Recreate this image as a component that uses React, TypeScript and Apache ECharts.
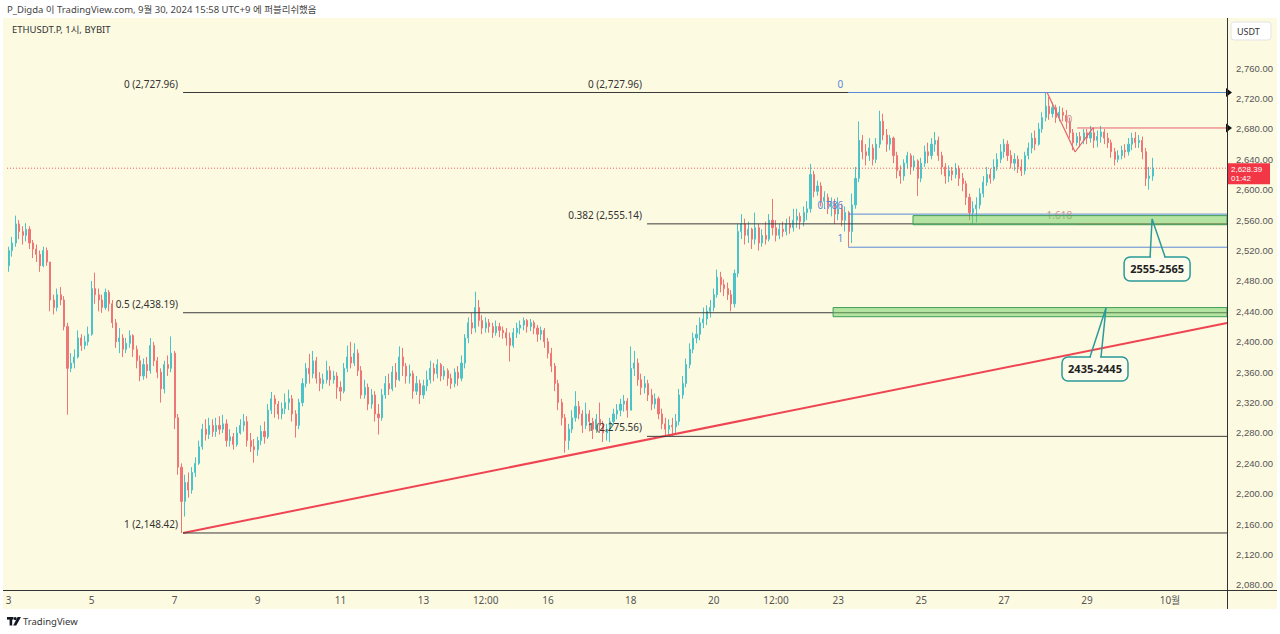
import React, { useEffect, useRef } from "react";
import * as echarts from "echarts";

// ---- candle data: 2-hour candles from Sep 3 00:00 (UTC+9), open = previous close ----
const FIRST_OPEN = 2500;
const closes = [
  2520,2530,2555,2545,2540,2548,2530,2522,2515,2500,2520,2505,
  2455,2445,2462,2455,2420,2365,2372,2380,2405,2395,2400,2410,
  2470,2462,2455,2445,2465,2450,2425,2400,2405,2390,2398,2408,
  2390,2375,2355,2370,2362,2395,2375,2360,2338,2370,2365,2385,
  2300,2235,2190,2215,2205,2228,2240,2262,2285,2278,2290,2282,
  2290,2285,2292,2270,2275,2265,2280,2290,2295,2270,2262,2258,
  2270,2282,2275,2310,2325,2318,2305,2312,2320,2325,2305,2290,
  2320,2345,2365,2358,2375,2352,2345,2350,2362,2350,2355,2340,
  2335,2365,2380,2372,2385,2362,2330,2340,2318,2330,2305,2300,
  2330,2345,2338,2360,2350,2380,2368,2355,2358,2335,2345,2330,
  2342,2350,2365,2358,2370,2355,2362,2352,2345,2360,2352,2372,
  2405,2425,2418,2445,2428,2418,2425,2420,2412,2420,2415,2412,
  2405,2395,2412,2418,2422,2428,2420,2425,2418,2410,2415,2400,
  2385,2368,2345,2320,2300,2270,2285,2300,2315,2305,2290,2305,
  2295,2285,2298,2290,2280,2285,2295,2305,2310,2318,2322,2310,
  2365,2372,2350,2340,2345,2330,2318,2325,2305,2292,2285,2290,
  2288,2295,2330,2345,2370,2390,2405,2410,2425,2430,2440,2445,
  2462,2485,2475,2470,2462,2450,2490,2545,2555,2540,2548,2535,
  2550,2530,2540,2535,2560,2550,2540,2548,2545,2555,2550,2560,
  2565,2558,2570,2575,2620,2598,2605,2585,2590,2578,2582,2568,
  2575,2560,2570,2545,2580,2615,2665,2650,2645,2655,2640,2660,
  2690,2672,2660,2668,2645,2625,2618,2635,2645,2630,2638,2615,
  2635,2650,2645,2660,2665,2645,2630,2618,2625,2620,2628,2615,
  2608,2590,2570,2575,2580,2595,2610,2620,2615,2630,2640,2650,
  2660,2645,2635,2640,2630,2625,2645,2655,2668,2660,2680,2695,
  2710,2700,2708,2695,2702,2698,2690,2675,2662,2670,2665,2675,
  2668,2675,2665,2670,2676,2668,2662,2650,2640,2645,2652,2650,
  2660,2668,2662,2665,2650,2615,2618,2628.39,
];
const lows = [
  2492,2512,2525,2535,2528,2532,2522,2510,2505,2492,2498,2500,
  2440,2436,2440,2448,2415,2304,2360,2365,2378,2388,2390,2395,
  2408,2450,2440,2438,2442,2440,2418,2392,2385,2380,2385,2392,
  2380,2365,2348,2350,2352,2358,2368,2352,2320,2332,2355,2360,
  2285,2225,2148.42,2170,2195,2200,2222,2238,2258,2270,2272,2275,
  2275,2278,2280,2262,2262,2258,2262,2278,2282,2262,2255,2241,
  2250,2264,2266,2272,2305,2300,2298,2298,2305,2310,2295,2274,
  2285,2315,2340,2345,2352,2345,2335,2338,2345,2342,2345,2325,
  2322,2332,2360,2365,2368,2355,2325,2325,2310,2312,2295,2278,
  2296,2325,2330,2335,2340,2348,2355,2345,2345,2325,2330,2318,
  2325,2335,2345,2348,2352,2348,2350,2342,2338,2340,2342,2348,
  2365,2398,2410,2412,2420,2410,2412,2412,2405,2408,2406,2404,
  2395,2374,2392,2405,2410,2415,2412,2414,2410,2400,2402,2392,
  2378,2360,2335,2310,2290,2254,2258,2280,2295,2298,2280,2285,
  2282,2272,2280,2280,2268,2270,2268,2290,2298,2302,2308,2300,
  2315,2355,2342,2330,2332,2322,2310,2312,2298,2285,2276,2278,
  2276,2280,2290,2325,2340,2365,2385,2398,2402,2418,2422,2432,
  2440,2458,2465,2460,2455,2440,2445,2485,2535,2528,2530,2522,
  2528,2520,2525,2528,2532,2540,2532,2535,2538,2540,2542,2545,
  2550,2548,2552,2560,2570,2590,2592,2578,2575,2568,2565,2555,
  2560,2552,2545,2525,2530,2575,2610,2640,2632,2638,2632,2635,
  2655,2665,2650,2652,2635,2615,2608,2612,2628,2620,2625,2592,
  2610,2630,2635,2640,2650,2638,2620,2608,2610,2612,2615,2605,
  2598,2580,2560,2555,2557,2575,2590,2605,2608,2612,2625,2635,
  2642,2638,2628,2625,2622,2618,2620,2640,2648,2652,2658,2675,
  2690,2692,2695,2688,2690,2690,2680,2668,2652,2658,2656,2660,
  2660,2662,2655,2656,2662,2660,2655,2642,2632,2636,2640,2642,
  2645,2652,2655,2655,2640,2605,2600,2612,
];
const highs = [
  2525,2538,2566,2560,2552,2556,2552,2534,2528,2520,2525,2524,
  2505,2462,2470,2472,2460,2425,2385,2390,2415,2410,2408,2420,
  2480,2491,2470,2462,2470,2468,2455,2430,2418,2410,2405,2415,
  2410,2395,2382,2378,2380,2405,2400,2380,2365,2375,2382,2407,
  2388,2305,2240,2225,2228,2235,2248,2270,2292,2298,2300,2298,
  2300,2302,2304,2298,2285,2280,2288,2298,2305,2302,2280,2272,
  2275,2290,2295,2318,2334,2330,2322,2320,2332,2337,2330,2310,
  2325,2352,2372,2384,2388,2380,2360,2358,2375,2368,2362,2360,
  2348,2372,2395,2400,2398,2390,2368,2350,2345,2338,2335,2318,
  2338,2355,2358,2368,2372,2394,2392,2372,2370,2362,2355,2350,
  2350,2362,2375,2372,2377,2372,2368,2365,2358,2365,2368,2382,
  2410,2432,2438,2466,2455,2435,2432,2430,2425,2428,2425,2420,
  2418,2412,2418,2425,2428,2432,2430,2430,2428,2422,2420,2418,
  2405,2392,2372,2350,2325,2305,2292,2310,2335,2322,2310,2320,
  2310,2300,2305,2320,2296,2292,2300,2312,2318,2325,2330,2326,
  2394,2388,2378,2358,2355,2350,2338,2332,2328,2312,2300,2298,
  2300,2305,2338,2355,2378,2398,2412,2422,2432,2445,2448,2455,
  2470,2495,2492,2482,2478,2468,2495,2555,2568,2562,2558,2550,
  2570,2555,2548,2558,2568,2588,2560,2555,2558,2562,2565,2575,
  2575,2570,2578,2585,2634,2625,2612,2610,2598,2595,2590,2588,
  2590,2582,2578,2572,2595,2630,2690,2672,2660,2668,2660,2668,
  2704,2700,2680,2672,2670,2650,2632,2640,2650,2648,2645,2640,
  2642,2658,2662,2668,2676,2670,2650,2635,2632,2630,2635,2632,
  2622,2612,2595,2585,2590,2602,2618,2630,2628,2640,2648,2660,
  2667,2665,2652,2648,2645,2640,2650,2662,2675,2678,2688,2702,
  2727.96,2722,2715,2712,2710,2708,2705,2695,2680,2675,2676,2680,
  2680,2684,2682,2678,2684,2680,2675,2666,2655,2652,2658,2660,
  2668,2675,2676,2672,2670,2655,2630,2642,
];

const SLOT_COUNT = 353; // 2-hour slots visible across the plot
const HOUR_MIN = -0.58;
const HOUR_MAX = 706.2;

const xTicks: [string, string][] = [
  ["09-03 00:00", "3"], ["09-05 00:00", "5"], ["09-07 00:00", "7"], ["09-09 00:00", "9"],
  ["09-11 00:00", "11"], ["09-13 00:00", "13"], ["09-14 12:00", "12:00"], ["09-16 00:00", "16"],
  ["09-18 00:00", "18"], ["09-20 00:00", "20"], ["09-21 12:00", "12:00"], ["09-23 00:00", "23"],
  ["09-25 00:00", "25"], ["09-27 00:00", "27"], ["09-29 00:00", "29"], ["10-01 00:00", "10월"],
];
const priceTicks = [2080, 2120, 2160, 2200, 2240, 2280, 2320, 2360, 2400, 2440, 2480, 2520, 2560, 2600, 2640, 2680, 2720, 2760];

// ---- drawings (hours since Sep 3 00:00, price) ----
const fibA = { start: 101.4, levels: [[0, 2727.96], [0.5, 2438.19], [1, 2148.42]] };
const fibB = { start: 370.2, levels: [[0, 2727.96], [0.382, 2555.14], [1, 2275.56]] };
const fibC = { start: 486.7, levels: [[0, 2727.96], [0.786, 2567.96], [1, 2524.4]] };
const extPivots = [[602.0, 2727.96], [618.2, 2649.7], [628.6, 2681.3]];
const ext = { start: 619.4, levels: [[0, 2681.3], [1.618, 2554.7]] };
const zones = [
  { start: 524.3, low: 2554, high: 2566, tip: [662.8, 2561.6], text: "2555-2565" },
  { start: 478.0, low: 2433, high: 2445, tip: [636.1, 2444.5], text: "2435-2445" },
];
const trendLine = [[101.4, 2148.42], [706.2, 2424.7]];
const lastPrice = 2628.39;
const countdown = "01:42";

const fmt = (v: number) => v.toLocaleString("en-US", { minimumFractionDigits: 2, maximumFractionDigits: 2 });
const pad = (n: number) => (n < 10 ? "0" + n : "" + n);

function buildCategories() {
  const cats: string[] = [];
  for (let i = 0; i < SLOT_COUNT; i++) {
    const hours = i * 2;
    let day = 3 + Math.floor(hours / 24);
    let month = 9;
    if (day > 30) { day -= 30; month = 10; }
    cats.push(`${pad(month)}-${pad(day)} ${pad(hours % 24)}:00`);
  }
  return cats;
}

function buildCandles() {
  const out: number[][] = [];
  let open = FIRST_OPEN;
  for (let i = 0; i < closes.length; i++) {
    const c = closes[i];
    const l = Math.min(lows[i], open, c);
    const h = Math.max(highs[i], open, c);
    out.push([open, c, l, h]);
    open = c;
  }
  return out;
}

const FONT = "'Noto Sans', 'Noto Sans CJK KR', sans-serif";
const AXIS_FONT = "'Liberation Sans', Arial, sans-serif";
const BG = "#fdfae2";

export default function App() {
  const ref = useRef<HTMLDivElement>(null);
  useEffect(() => {
    if (!ref.current) return;
    const chart = echarts.init(ref.current, undefined, { renderer: "svg" });
    const categories = buildCategories();
    const tickMap: Record<string, string> = {};
    xTicks.forEach(([k, v]) => (tickMap[k] = v));

    const txt = (x: number, y: number, text: string, fill: string, align: string, size = 10, weight = "normal", family = FONT) => ({
      type: "text",
      x, y,
      style: { text, fill, fontSize: size, fontFamily: family, fontWeight: weight, align, textAlign: align, verticalAlign: "middle", textVerticalAlign: "middle" },
    });

    const renderDrawings = (params: any, api: any) => {
      if (params.dataIndex !== 0) return;
      const P = (h: number, p: number) => api.coord([h, p]);
      const ch: any[] = [];
      const seg = (h1: number, p1: number, h2: number, p2: number, stroke: string, lw = 1, dash?: number[], opacity = 1) => {
        const a = P(h1, p1), b = P(h2, p2);
        ch.push({ type: "line", shape: { x1: a[0], y1: a[1], x2: b[0], y2: b[1] }, style: { stroke, lineWidth: lw, lineDash: dash, opacity } });
      };
      // current price dotted line
      seg(HOUR_MIN, lastPrice, HOUR_MAX, lastPrice, "#f23645", 1, [1, 2], 0.8);
      // trend line
      seg(trendLine[0][0], trendLine[0][1], trendLine[1][0], trendLine[1][1], "#ef4452", 2);
      // fib A & B (black)
      [fibA, fibB].forEach((f) => {
        f.levels.forEach(([lv, p]) => {
          seg(f.start, p, HOUR_MAX, p, "#3b3b3b", 1);
          const a = P(f.start, p);
          ch.push(txt(a[0] - 5, a[1] - 9, `${lv} (${fmt(p)})`, "#333333", "right"));
        });
      });
      // fib C (blue)
      fibC.levels.forEach(([lv, p]) => {
        seg(fibC.start, p, HOUR_MAX, p, "#5a89d6", 1);
        const a = P(fibC.start, p);
        ch.push(txt(a[0] - 5, a[1] - 9, `${lv}`, "#5a89d6", "right"));
      });
      // extension (red)
      for (let i = 0; i < extPivots.length - 1; i++) {
        seg(extPivots[i][0], extPivots[i][1], extPivots[i + 1][0], extPivots[i + 1][1], "#e5636d", 1.2);
      }
      ext.levels.forEach(([lv, p]) => {
        seg(ext.start, p, HOUR_MAX, p, "#e5636d", 1);
        const a = P(ext.start, p);
        ch.push(txt(a[0] - 5, a[1] - 9, `${lv}`, "#c99494", "right"));
      });
      // zones
      zones.forEach((z) => {
        const a = P(z.start, z.high), b = P(HOUR_MAX, z.low);
        ch.push({ type: "rect", shape: { x: a[0], y: a[1], width: b[0] - a[0], height: b[1] - a[1] }, style: { fill: "rgba(110,204,96,0.5)", stroke: "#3f9f5b", lineWidth: 1 } });
      });
      // callouts
      const offsets = [
        { bx: -28, by: 38, l: -2, r: 13 },
        { bx: -44, by: 49, l: -16, r: -5 },
      ];
      zones.forEach((z, i) => {
        const t = P(z.tip[0], z.tip[1]);
        const o = offsets[i];
        const bx = t[0] + o.bx, by = t[1] + o.by;
        ch.push({ type: "rect", shape: { x: bx, y: by, width: 66, height: 24, r: 6 }, style: { fill: "#fdfbe9", stroke: "#2a9a9a", lineWidth: 1.5 } });
        ch.push({ type: "line", shape: { x1: t[0] + o.l + 1, y1: by, x2: t[0] + o.r - 1, y2: by }, style: { stroke: "#fdfbe9", lineWidth: 2.5 } });
        ch.push({ type: "polyline", shape: { points: [[t[0] + o.l, by], [t[0], t[1]], [t[0] + o.r, by]] }, style: { stroke: "#2a9a9a", lineWidth: 1.5, fill: null } });
        ch.push(txt(bx + 33, by + 12, z.text, "#222222", "center", 11, "bold"));
      });
      // price axis markers
      [2727.96, ext.levels[0][1]].forEach((p) => {
        const a = P(HOUR_MAX, p);
        ch.push({ type: "polygon", shape: { points: [[a[0] - 1, a[1] - 4.5], [a[0] + 5, a[1]], [a[0] - 1, a[1] + 4.5]] }, style: { fill: "#111111" } });
      });
      const lp = P(HOUR_MAX, lastPrice);
      ch.push({ type: "rect", shape: { x: lp[0], y: lp[1] - 5, width: 43, height: 21 }, style: { fill: "#f23645" } });
      ch.push(txt(lp[0] + 4, lp[1] + 1.2, fmt(lastPrice), "#ffffff", "left", 8, "normal", AXIS_FONT));
      ch.push(txt(lp[0] + 4, lp[1] + 10.4, countdown, "#ffffff", "left", 8, "normal", AXIS_FONT));
      return { type: "group", children: ch };
    };

    chart.setOption({
      animation: false,
      textStyle: { fontFamily: FONT },
      graphic: [
        { type: "rect", shape: { x: 3, y: 18, width: 1274, height: 591 }, style: { fill: BG }, z: -10 },
        { type: "line", shape: { x1: 3, y1: 590.5, x2: 1277, y2: 590.5 }, style: { stroke: "#333333", lineWidth: 1 }, z: 10 },
        { type: "line", shape: { x1: 1227.5, y1: 18, x2: 1227.5, y2: 609 }, style: { stroke: "#333333", lineWidth: 1 }, z: 10 },
        { type: "rect", shape: { x: 1231, y: 22, width: 40, height: 18, r: 3 }, style: { fill: "#ffffff", stroke: "#e3e3e3", lineWidth: 1 }, z: 10 },
        { type: "text", x: 1237, y: 31, style: { text: "USDT", fill: "#333333", fontSize: 9, fontFamily: FONT, verticalAlign: "middle", textVerticalAlign: "middle" }, z: 10 },
        { type: "text", x: 12, y: 29, style: { text: "ETHUSDT.P, 1시, BYBIT", fill: "#333333", fontSize: 9.5, fontFamily: FONT, verticalAlign: "middle", textVerticalAlign: "middle" }, z: 10 },
        { type: "text", x: 7, y: 9, style: { text: "P_Digda 이 TradingView.com, 9월 30, 2024 15:58 UTC+9 에 퍼블리쉬했음", fill: "#444444", fontSize: 9.5, fontFamily: FONT, verticalAlign: "middle", textVerticalAlign: "middle" }, z: 10 },
        { type: "rect", shape: { x: 7, y: 617, width: 6.5, height: 2.6 }, style: { fill: "#131722" }, z: 10 },
        { type: "rect", shape: { x: 9.6, y: 617, width: 2.6, height: 8.5 }, style: { fill: "#131722" }, z: 10 },
        { type: "circle", shape: { cx: 15.2, cy: 618.6, r: 1.5 }, style: { fill: "#131722" }, z: 10 },
        { type: "polygon", shape: { points: [[17.6, 617], [21, 617], [16.2, 625.5], [13.2, 625.5]] }, style: { fill: "#131722" }, z: 10 },
        { type: "text", x: 23, y: 621.5, style: { text: "TradingView", fill: "#333333", fontSize: 9.5, fontFamily: FONT, verticalAlign: "middle", textVerticalAlign: "middle" }, z: 10 },
      ],
      grid: { left: 7, top: 18, width: 1220, height: 572, containLabel: false },
      xAxis: [
        {
          type: "category",
          data: categories,
          boundaryGap: true,
          axisLine: { show: false },
          axisTick: { show: false },
          splitLine: { show: false },
          axisLabel: {
            interval: (_i: number, v: string) => v in tickMap,
            formatter: (v: string) => tickMap[v] || "",
            color: "#555555",
            fontSize: 10,
            margin: 5,
            fontFamily: FONT,
          },
        },
        { type: "value", min: HOUR_MIN, max: HOUR_MAX, show: false },
      ],
      yAxis: {
        type: "value",
        position: "right",
        min: 2073.4,
        max: 2826,
        scale: true,
        splitLine: { show: false },
        axisLine: { show: false },
        axisTick: { show: false },
        axisLabel: {
          customValues: priceTicks,
          formatter: (v: number) => fmt(v),
          color: "#555555",
          fontSize: 9.5,
          margin: 9,
          fontFamily: AXIS_FONT,
        },
      },
      series: [
        {
          type: "candlestick",
          xAxisIndex: 0,
          data: buildCandles(),
          barWidth: 1.6,
          itemStyle: {
            color: "#4cc3c8",
            color0: "#ef7676",
            borderColor: "#4cc3c8",
            borderColor0: "#ef7676",
            borderWidth: 1,
          },
          silent: true,
        },
        {
          type: "custom",
          xAxisIndex: 1,
          yAxisIndex: 0,
          clip: false,
          silent: true,
          data: [[0, 2400]],
          renderItem: renderDrawings,
          z: 5,
        },
      ],
    });
    return () => chart.dispose();
  }, []);
  return <div ref={ref} style={{ position: "absolute", left: 0, top: 0, width: 1280, height: 634 }} />;
}
